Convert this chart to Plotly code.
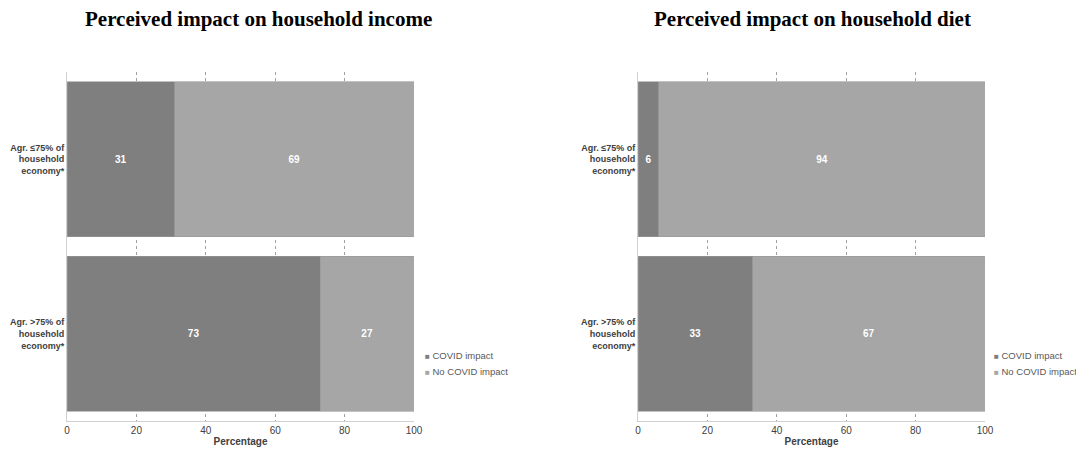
import plotly.graph_objects as go
from plotly.subplots import make_subplots

OX, OY = 8, 8  # page body margin offset
W, H = 1084 - 2 * OX, 457 - 2 * OY

groups = ["Agr. ≤75% of<br>household<br>economy*", "Agr. >75% of<br>household<br>economy*"]
series_names = ["COVID impact", "No COVID impact"]
income_covid = [31, 73]
income_no_covid = [69, 27]
diet_covid = [6, 33]
diet_no_covid = [94, 67]
x_ticks = [0, 20, 40, 60, 80, 100]
titles = ["Perceived impact on household income", "Perceived impact on household diet"]

DARK = "#7f7f7f"
LIGHT = "#a6a6a6"
colors = [DARK, LIGHT]


def px_x(v):
    return (v - OX) / W


def px_y(v):
    return 1 - (v - OY) / H


fig = make_subplots(rows=1, cols=2)

panels = [
    (1, [income_covid, income_no_covid]),
    (2, [diet_covid, diet_no_covid]),
]
for col, series in panels:
    for name, vals, color in zip(series_names, series, colors):
        fig.add_trace(go.Bar(
            y=groups, x=vals, name=name, orientation="h", showlegend=False,
            marker=dict(color=color, line=dict(color="#9a9a9a", width=0.6)),
            texttemplate="<b>%{x}</b>", textposition="inside", insidetextanchor="middle",
            textfont=dict(color="white", size=10, family="Liberation Sans"),
        ), row=1, col=col)

ydom = [px_y(421), px_y(72)]
fig.update_layout(
    barmode="stack", bargap=0.11,
    width=W, height=H, margin=dict(l=0, r=0, t=0, b=0),
    plot_bgcolor="white", paper_bgcolor="white",
    font=dict(family="Liberation Sans, Arial", color="#404040", size=10),
    xaxis=dict(domain=[px_x(67), px_x(414)]),
    xaxis2=dict(domain=[px_x(638), px_x(985)]),
    yaxis=dict(domain=ydom),
    yaxis2=dict(domain=ydom),
)
fig.update_xaxes(range=[0, 100], tickvals=x_ticks, showgrid=True, gridcolor="#a0a0a0",
                 griddash="dot", gridwidth=1, showline=True, linecolor="#d0d0d0",
                 linewidth=1, ticks="", zeroline=False, automargin=False,
                 tickprefix="<b>", ticksuffix="</b>",
                 tickfont=dict(size=10, color="#404040", family="Liberation Sans"),
                 title=dict(text="<b>Percentage</b>", font=dict(size=10), standoff=2))
fig.update_yaxes(autorange="reversed", showline=True, linecolor="#d0d0d0", linewidth=1,
                 ticks="", showgrid=False, automargin=False,
                 tickvals=groups, ticktext=["<b>" + g + "</b>" for g in groups],
                 tickfont=dict(size=9, color="#404040"))

# panel titles
for xc, txt in zip([258, 812], titles):
    fig.add_annotation(x=px_x(xc), y=px_y(19), xref="paper", yref="paper",
                       xanchor="center", yanchor="middle",
                       text="<b>" + txt + "</b>", showarrow=False,
                       font=dict(family="Liberation Serif, Times New Roman", size=21, color="black"))

# legends beside each panel
for lx in [423, 992]:
    for i, (name, color) in enumerate(zip(series_names, colors)):
        fig.add_annotation(x=px_x(lx), y=px_y(355 + 16 * i), xref="paper", yref="paper",
                           xanchor="left", yanchor="middle", showarrow=False,
                           text="<span style='color:%s;font-size:8px'>■</span> %s" % (color, name),
                           font=dict(size=9.5, color="#595959"))

fig.write_html("out.html")
